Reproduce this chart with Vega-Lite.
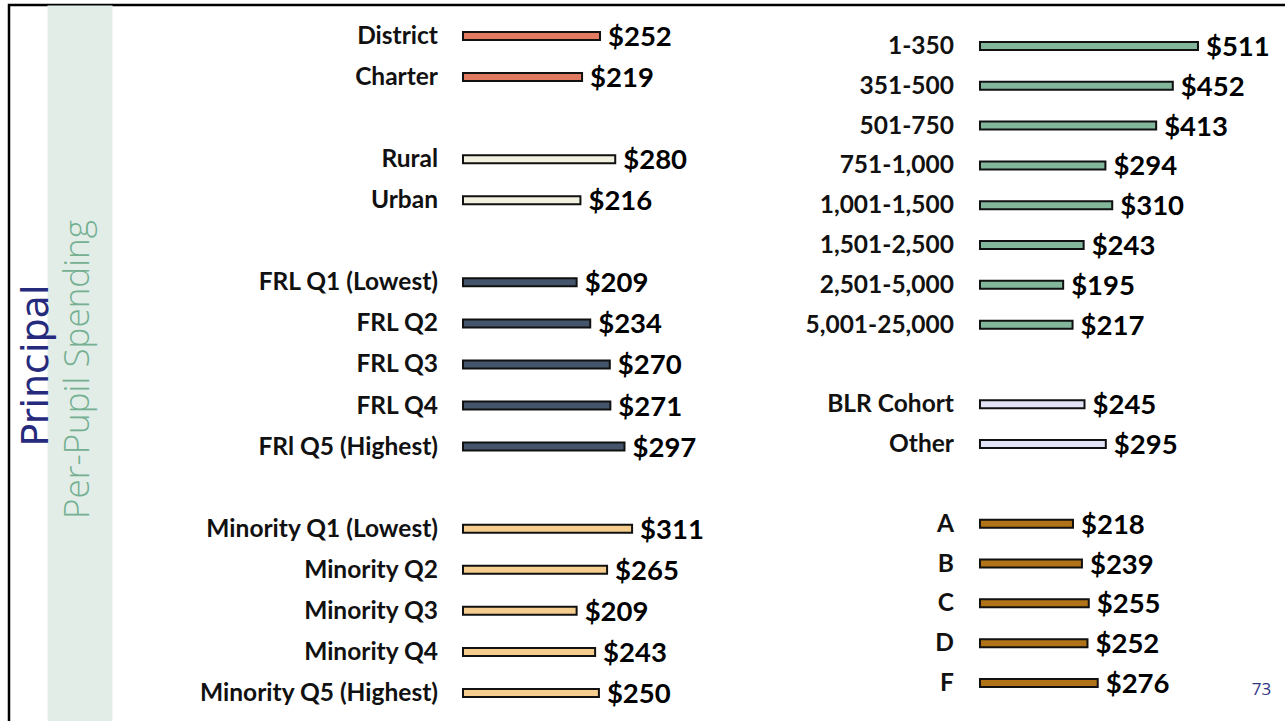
{
  "$schema": "https://vega.github.io/schema/vega-lite/v6.json",
  "width": 1285,
  "height": 720,
  "padding": {"left": 9, "top": 5, "right": 0, "bottom": 0},
  "autosize": {"type": "none"},
  "background": "white",
  "config": {"view": {"stroke": "#000000", "strokeWidth": 2.5}, "font": "Lato"},
  "layer": [
    {
      "data": {"values": [
        {"category": "District", "value": 252, "group": "type"},
        {"category": "Charter", "value": 219, "group": "type"},
        {"category": "Rural", "value": 280, "group": "locale"},
        {"category": "Urban", "value": 216, "group": "locale"},
        {"category": "FRL Q1 (Lowest)", "value": 209, "group": "frl"},
        {"category": "FRL Q2", "value": 234, "group": "frl"},
        {"category": "FRL Q3", "value": 270, "group": "frl"},
        {"category": "FRL Q4", "value": 271, "group": "frl"},
        {"category": "FRl Q5 (Highest)", "value": 297, "group": "frl"},
        {"category": "Minority Q1 (Lowest)", "value": 311, "group": "minority"},
        {"category": "Minority Q2", "value": 265, "group": "minority"},
        {"category": "Minority Q3", "value": 209, "group": "minority"},
        {"category": "Minority Q4", "value": 243, "group": "minority"},
        {"category": "Minority Q5 (Highest)", "value": 250, "group": "minority"}
      ]},
      "encoding": {
        "y": {
          "field": "category", "type": "nominal", "sort": null,
          "scale": {
            "domain": ["District", "Charter", " ", "Rural", "Urban", "  ", "FRL Q1 (Lowest)", "FRL Q2", "FRL Q3", "FRL Q4", "FRl Q5 (Highest)", "   ", "Minority Q1 (Lowest)", "Minority Q2", "Minority Q3", "Minority Q4", "Minority Q5 (Highest)"],
            "paddingInner": 0, "paddingOuter": 0.2677, "align": 0.476
          },
          "axis": {
            "orient": "left", "offset": -70.5,
            "domain": true, "domainColor": "#e3ede8", "domainWidth": 65,
            "ticks": false, "labels": false, "grid": false,
            "title": "Principal", "titleAngle": -90, "titleX": -32, "titleY": 360,
            "titleAlign": "center", "titleBaseline": "alphabetic",
            "titleFont": "DejaVu Sans", "titleFontSize": 38, "titleFontWeight": "normal", "titleColor": "#262a7c"
          }
        }
      },
      "layer": [
        {
          "mark": {"type": "bar", "size": 8, "stroke": "#111111", "strokeWidth": 2},
          "encoding": {
            "x": {
              "field": "value", "type": "quantitative",
              "scale": {"domain": [-835, 1528.4], "nice": false, "zero": false},
              "axis": {
                "orient": "bottom", "offset": 0, "domain": false, "ticks": false, "labels": false, "grid": false,
                "title": "73", "titleX": 1252, "titleY": -36, "titleAlign": "center", "titleBaseline": "middle",
                "titleFont": "Open Sans", "titleFontSize": 17, "titleFontWeight": "normal", "titleColor": "#2f3385"
              }
            },
            "x2": {"datum": 0},
            "color": {
              "field": "group", "type": "nominal", "legend": null,
              "scale": {"domain": ["type", "locale", "frl", "minority"], "range": ["#e07b61", "#f2f0df", "#44546a", "#f5cd8f"]}
            }
          }
        },
        {
          "mark": {"type": "text", "align": "right", "baseline": "middle", "dx": -25, "dy": 1, "font": "Lato", "fontWeight": "bold", "fontSize": 24.5, "color": "#111111"},
          "encoding": {"x": {"datum": 0}, "text": {"field": "category"}}
        },
        {
          "mark": {"type": "text", "align": "left", "baseline": "middle", "dx": 8, "dy": 2, "font": "Lato", "fontWeight": "bold", "fontSize": 27.5, "color": "#000000"},
          "encoding": {"x": {"field": "value", "type": "quantitative"}, "text": {"field": "value", "format": "$.0f"}}
        }
      ]
    },
    {
      "data": {"values": [
        {"category": "1-350", "value": 511, "group": "size"},
        {"category": "351-500", "value": 452, "group": "size"},
        {"category": "501-750", "value": 413, "group": "size"},
        {"category": "751-1,000", "value": 294, "group": "size"},
        {"category": "1,001-1,500", "value": 310, "group": "size"},
        {"category": "1,501-2,500", "value": 243, "group": "size"},
        {"category": "2,501-5,000", "value": 195, "group": "size"},
        {"category": "5,001-25,000", "value": 217, "group": "size"},
        {"category": "BLR Cohort", "value": 245, "group": "blr"},
        {"category": "Other", "value": 295, "group": "blr"},
        {"category": "A", "value": 218, "group": "grade"},
        {"category": "B", "value": 239, "group": "grade"},
        {"category": "C", "value": 255, "group": "grade"},
        {"category": "D", "value": 252, "group": "grade"},
        {"category": "F", "value": 276, "group": "grade"}
      ]},
      "encoding": {
        "y": {
          "field": "category", "type": "nominal", "sort": null,
          "scale": {
            "domain": ["1-350", "351-500", "501-750", "751-1,000", "1,001-1,500", "1,501-2,500", "2,501-5,000", "5,001-25,000", " ", "BLR Cohort", "Other", "  ", "A", "B", "C", "D", "F"],
            "paddingInner": 0, "paddingOuter": 0.543, "align": 0.488
          },
          "axis": {
            "orient": "left", "offset": -70.5,
            "domain": false, "ticks": false, "labels": false, "grid": false,
            "title": "Per-Pupil Spending", "titleAngle": -90, "titleX": 9, "titleY": 364,
            "titleAlign": "center", "titleBaseline": "alphabetic",
            "titleFont": "Open Sans", "titleFontSize": 35, "titleFontWeight": 300, "titleColor": "#74b091"
          }
        }
      },
      "layer": [
        {
          "mark": {"type": "bar", "size": 8, "stroke": "#111111", "strokeWidth": 2},
          "encoding": {
            "x": {
              "field": "value", "type": "quantitative",
              "scale": {"domain": [-2276.1, 736.1], "nice": false, "zero": false},
              "axis": null
            },
            "x2": {"datum": 0},
            "color": {
              "field": "group", "type": "nominal", "legend": null,
              "scale": {"domain": ["size", "blr", "grade"], "range": ["#82b79c", "#e2e3f5", "#b17318"]}
            }
          }
        },
        {
          "mark": {"type": "text", "align": "right", "baseline": "middle", "dx": -26, "dy": 1, "font": "Lato", "fontWeight": "bold", "fontSize": 24.5, "color": "#111111"},
          "encoding": {"x": {"datum": 0}, "text": {"field": "category"}}
        },
        {
          "mark": {"type": "text", "align": "left", "baseline": "middle", "dx": 8, "dy": 2, "font": "Lato", "fontWeight": "bold", "fontSize": 27.5, "color": "#000000"},
          "encoding": {"x": {"field": "value", "type": "quantitative"}, "text": {"field": "value", "format": "$.0f"}}
        }
      ]
    }
  ],
  "resolve": {
    "scale": {"x": "independent", "y": "independent", "color": "independent"},
    "axis": {"x": "independent", "y": "independent"}
  }
}
